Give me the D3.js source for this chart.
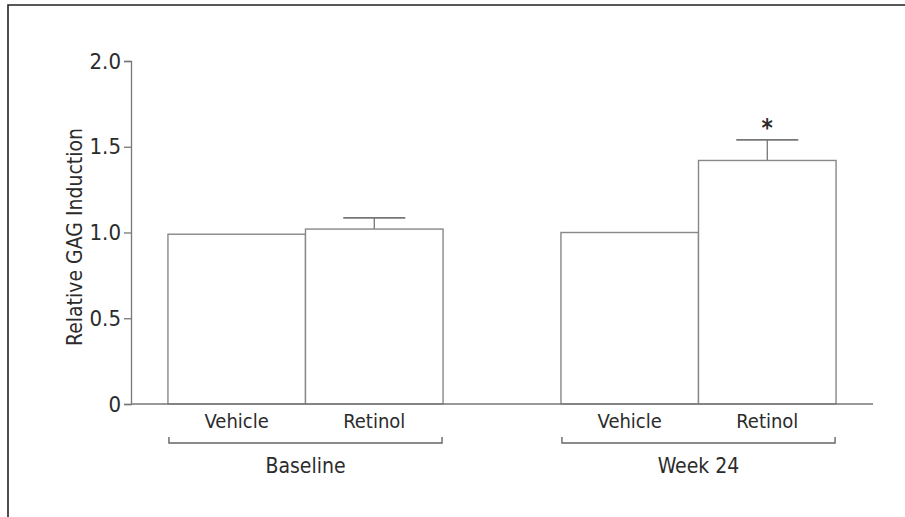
<!DOCTYPE html>
<html>
<head>
<meta charset="utf-8">
<script src="https://cdn.jsdelivr.net/npm/d3@7"></script>
<style>
  body { margin: 0; background: #fff; }
  text { font-family: "Liberation Sans Narrow", "DejaVu Sans Condensed", "Roboto", sans-serif; fill: #2b2b2b; }
</style>
</head>
<body>
<div id="chart-area"></div>
<script>
// data
var groups = ["Baseline", "Week 24"];
var treatments = ["Vehicle", "Retinol"];
var baselineValues = [0.99, 1.02];
var baselineErrors = [0, 0.065];
var week24Values = [1.0, 1.42];
var week24Errors = [0, 0.12];
var yTicks = [0, 0.5, 1.0, 1.5, 2.0];
var significant = [[false, false], [false, true]];

var completeWidth = 905,
	completeHeight = 517;

var svg = d3.select("#chart-area")
	.append("svg")
		.attr("width", completeWidth)
		.attr("height", completeHeight);

// frame round the figure
svg.append("path")
	.attr("d", "M8,517 V5 H905")
	.attr("fill", "none")
	.attr("stroke", "#222")
	.attr("stroke-width", 1.6);

var rows = groups.map(function(g, i) {
	var vals = i === 0 ? baselineValues : week24Values;
	var errs = i === 0 ? baselineErrors : week24Errors;
	return treatments.map(function(t, j) {
		return { group: g, treatment: t, value: vals[j], err: errs[j], star: significant[i][j] };
	});
});

// scales
var x0 = d3.scaleBand()
	.domain(groups)
	.range([131, 873])
	.paddingInner(0.3)
	.paddingOuter(0.094);
var x1 = d3.scaleBand()
	.domain(treatments)
	.range([0, x0.bandwidth()]);
var y = d3.scaleLinear()
	.domain([0, 2])
	.range([404, 61]);

// y axis
var yAxisCall = d3.axisLeft(y)
	.tickValues(yTicks)
	.tickSize(7)
	.tickPadding(3)
	.tickFormat(function(d) { return d === 0 ? "0" : d3.format(".1f")(d); });
var yAxis = svg.append("g")
	.attr("transform", "translate(131,0)")
	.call(yAxisCall);
yAxis.select(".domain").attr("stroke", "#777").attr("stroke-width", 1.3);
yAxis.selectAll(".tick line").attr("stroke", "#777").attr("stroke-width", 1.3);
yAxis.selectAll(".tick text")
	.attr("font-size", "22px")
	.attr("fill", "#2b2b2b")
	.style("font-family", "'Liberation Sans Narrow', 'DejaVu Sans Condensed', sans-serif");

// bars
var groupG = svg.selectAll(".group")
	.data(rows)
	.enter().append("g")
	.attr("class", "group")
	.attr("transform", function(d) { return "translate(" + x0(d[0].group) + ",0)"; });

// error bars first, bar outline drawn over the stem
groupG.selectAll(".err")
	.data(function(d) { return d.filter(function(e) { return e.err > 0; }); })
	.enter().append("g")
	.each(function(d) {
		var cx = x1(d.treatment) + x1.bandwidth() / 2;
		var g = d3.select(this);
		g.append("line")
			.attr("x1", cx).attr("x2", cx)
			.attr("y1", y(d.value)).attr("y2", y(d.value + d.err))
			.attr("stroke", "#777").attr("stroke-width", 1.3);
		g.append("line")
			.attr("x1", cx - 31).attr("x2", cx + 31)
			.attr("y1", y(d.value + d.err)).attr("y2", y(d.value + d.err))
			.attr("stroke", "#777").attr("stroke-width", 1.6);
	});

groupG.selectAll("rect")
	.data(function(d) { return d; })
	.enter().append("rect")
	.attr("x", function(d) { return x1(d.treatment); })
	.attr("y", function(d) { return y(d.value); })
	.attr("width", x1.bandwidth())
	.attr("height", function(d) { return y(0) - y(d.value); })
	.attr("fill", "#fff")
	.attr("stroke", "#888")
	.attr("stroke-width", 1.4);

// significance star
groupG.selectAll(".star")
	.data(function(d) { return d.filter(function(e) { return e.star; }); })
	.enter().append("text")
	.attr("x", function(d) { return x1(d.treatment) + x1.bandwidth() / 2; })
	.attr("y", function(d) { return y(d.value + d.err) - 4; })
	.attr("text-anchor", "middle")
	.attr("font-size", "24px")
	.attr("font-weight", "bold")
	.text("*");

// x baseline
svg.append("line")
	.attr("x1", 131).attr("x2", 873)
	.attr("y1", y(0)).attr("y2", y(0))
	.attr("stroke", "#777").attr("stroke-width", 1.3);

// treatment labels
groupG.selectAll(".tlabel")
	.data(function(d) { return d; })
	.enter().append("text")
	.attr("x", function(d) { return x1(d.treatment) + x1.bandwidth() / 2; })
	.attr("y", 428)
	.attr("text-anchor", "middle")
	.attr("font-size", "20px")
	.text(function(d) { return d.treatment; });

// brackets and group labels
groupG.append("path")
	.attr("d", function() { return "M1,437 V443 H" + (x0.bandwidth() - 1) + " V437"; })
	.attr("fill", "none")
	.attr("stroke", "#666")
	.attr("stroke-width", 1.4);
groupG.append("text")
	.attr("x", x0.bandwidth() / 2)
	.attr("y", 473)
	.attr("text-anchor", "middle")
	.attr("font-size", "21px")
	.text(function(d) { return d[0].group; });

// y label
svg.append("text")
	.attr("transform", "rotate(-90)")
	.attr("x", -237)
	.attr("y", 82)
	.attr("text-anchor", "middle")
	.attr("font-size", "21px")
	.text("Relative GAG Induction");
</script>
</body>
</html>
